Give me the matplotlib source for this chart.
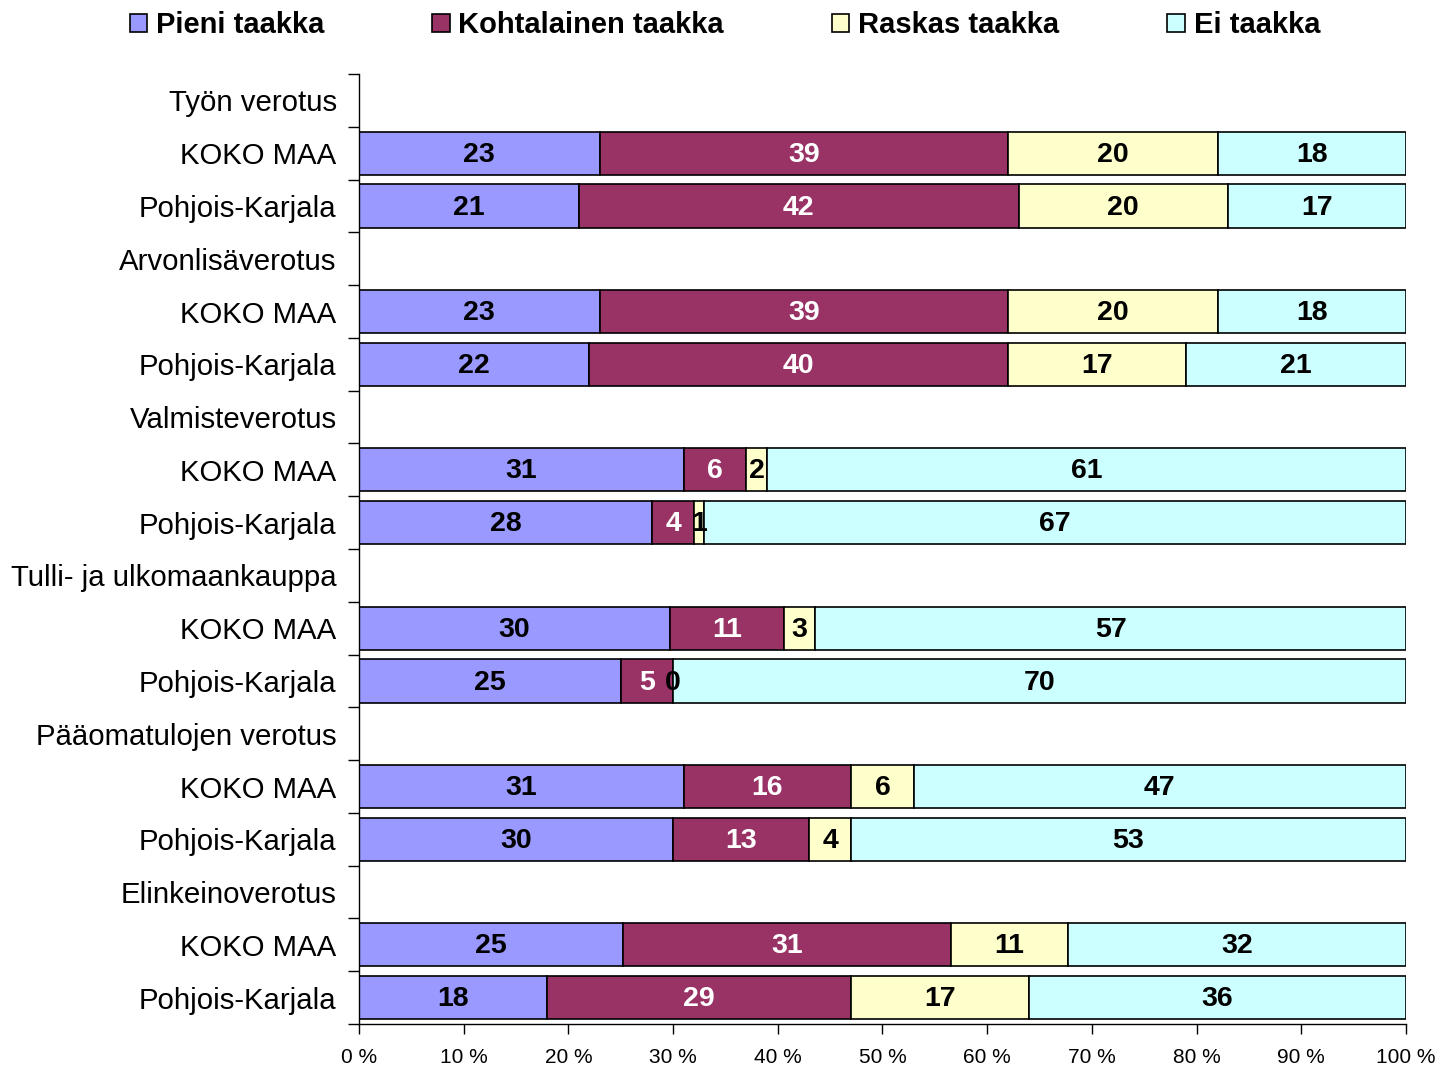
import numpy as np
import matplotlib.pyplot as plt
from matplotlib.patches import Patch
from matplotlib.ticker import FixedLocator

plt.rcParams['font.family'] = ['Liberation Sans', 'DejaVu Sans']

# row labels top to bottom; header rows have no bar
rows = ['Työn verotus', 'KOKO MAA', 'Pohjois-Karjala',
        'Arvonlisäverotus', 'KOKO MAA', 'Pohjois-Karjala',
        'Valmisteverotus', 'KOKO MAA', 'Pohjois-Karjala',
        'Tulli- ja ulkomaankauppa', 'KOKO MAA', 'Pohjois-Karjala',
        'Pääomatulojen verotus', 'KOKO MAA', 'Pohjois-Karjala',
        'Elinkeinoverotus', 'KOKO MAA', 'Pohjois-Karjala']

series = ['Pieni taakka', 'Kohtalainen taakka', 'Raskas taakka', 'Ei taakka']
colors = ['#9999FF', '#993366', '#FFFFCC', '#CCFFFF']
text_colors = ['black', 'white', 'black', 'black']

# values per bar row (None = header row)
pieni       = [None, 23, 21, None, 23, 22, None, 31, 28, None, 30, 25, None, 31, 30, None, 25, 18]
kohtalainen = [None, 39, 42, None, 39, 40, None, 6, 4, None, 11, 5, None, 16, 13, None, 31, 29]
raskas      = [None, 20, 20, None, 20, 17, None, 2, 1, None, 3, 0, None, 6, 4, None, 11, 17]
ei          = [None, 18, 17, None, 18, 21, None, 61, 67, None, 57, 70, None, 47, 53, None, 32, 36]

fig = plt.figure(figsize=(14.41, 10.68), dpi=100)
ax = fig.add_axes([0.2491, 0.0412, 0.7266, 0.8895])

data = [pieni, kohtalainen, raskas, ei]
for i in range(len(rows)):
    if pieni[i] is None:
        continue
    vals = np.array([d[i] for d in data], dtype=float)
    pct = vals / vals.sum() * 100
    left = 0
    for j in range(4):
        ax.barh(i, pct[j], left=left, height=0.82, color=colors[j],
                edgecolor='black', linewidth=1.2)
        ax.text(left + pct[j] / 2, i + 0.03, str(int(vals[j])), ha='center', va='center',
                fontsize=20.5, fontweight='bold', color=text_colors[j])
        left += pct[j]

ax.set_xlim(0, 100)
ax.set_ylim(len(rows) - 0.5, -0.5)
ax.set_xticks(np.arange(0, 101, 10))
ax.set_xticklabels([f'{v} %' for v in range(0, 101, 10)], fontsize=15)
ax.tick_params(axis='x', length=7, width=1, pad=10)

ax.set_yticks(np.arange(len(rows)))
ax.set_yticklabels(rows, fontsize=21.2)
ax.tick_params(axis='y', which='major', length=0, pad=16)
ax.yaxis.set_minor_locator(FixedLocator(np.arange(-0.5, len(rows), 1)))
ax.tick_params(axis='y', which='minor', length=8, width=1)

for s in ['top', 'right']:
    ax.spines[s].set_visible(False)
ax.spines['left'].set_linewidth(1)
ax.spines['bottom'].set_linewidth(1)

handles = [Patch(facecolor=c, edgecolor='black', linewidth=1.2) for c in colors]
fig.legend(handles, series, loc='upper center', bbox_to_anchor=(0.503, 1.014),
           ncol=4, frameon=False, prop={'size': 21, 'weight': 'bold'},
           handlelength=0.6, handleheight=0.6, handletextpad=0.3,
           columnspacing=3.7)

fig.savefig('out.png', dpi=100)
